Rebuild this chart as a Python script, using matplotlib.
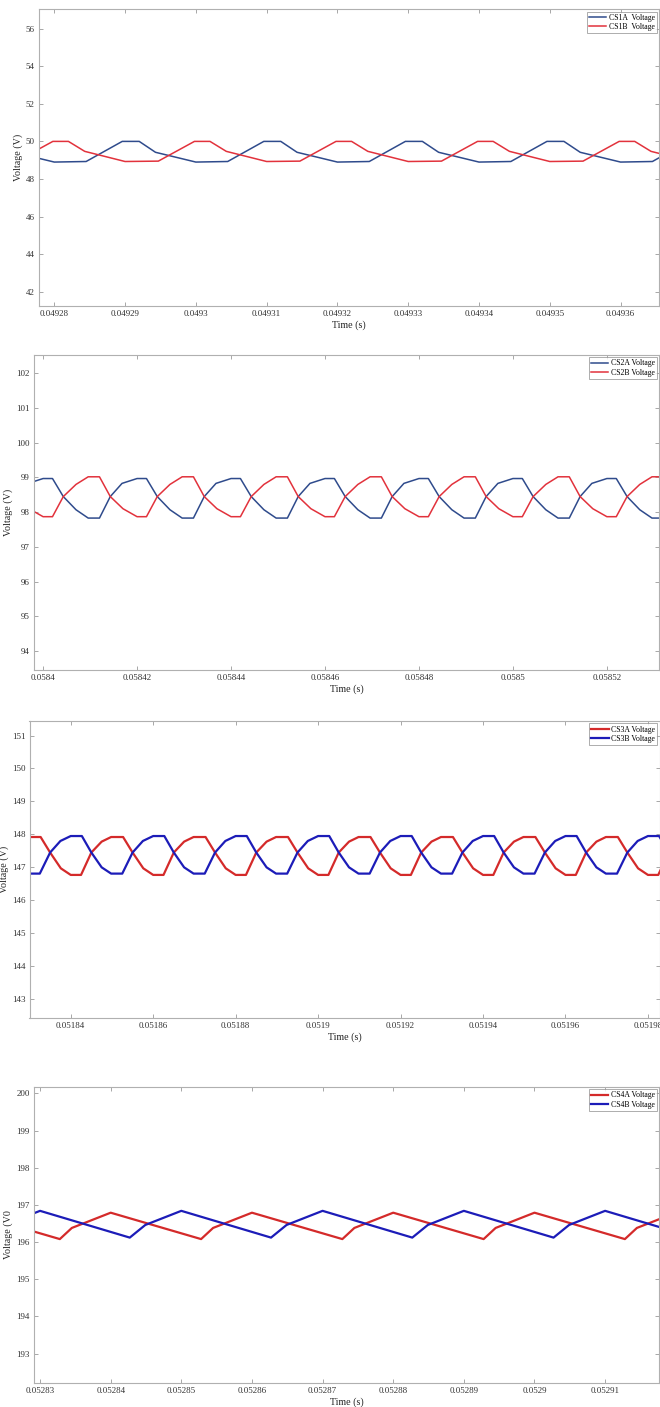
import numpy as np
import matplotlib
matplotlib.use('Agg')
import matplotlib.pyplot as plt
from matplotlib.ticker import FuncFormatter

plt.rcParams['font.family'] = ['Liberation Serif', 'DejaVu Serif']

# ---- data (times in microseconds, one switching cycle,
#      plus the start time of every cycle visible in each window) ----

# panel 1
cs1a_start = [49260, 49280, 49300, 49320, 49340, 49360]
cs1a_dt = [0, 4.5, 9.6, 12.0, 14.3, 20.0]
cs1a_v = [48.90, 48.93, 50.00, 50.00, 49.42, 48.90]
cs1b_start = [49270, 49290, 49310, 49330, 49350, 49370]
cs1b_dt = [0, 4.7, 9.8, 12.0, 14.3, 20.0]
cs1b_v = [48.93, 48.95, 50.00, 50.00, 49.47, 48.93]

# panel 2
cs2_start = [58380, 58400, 58420, 58440, 58460, 58480, 58500, 58520]
cs2a_dt = [0, 2.0, 4.3, 7.0, 9.6, 12.0, 14.3, 16.8, 20.0]
cs2a_v = [98.97, 98.97, 98.45, 98.07, 97.83, 97.83, 98.45, 98.83, 98.97]
cs2b_dt = [0, 2.0, 4.3, 7.0, 9.6, 12.0, 14.3, 17.0, 20.0]
cs2b_v = [97.87, 97.87, 98.45, 98.80, 99.02, 99.02, 98.45, 98.10, 97.87]

# panel 3
cs3_start = [51820, 51840, 51860, 51880, 51900, 51920, 51940, 51960, 51980]
cs3a_dt = [0, 2.5, 5.0, 7.5, 9.8, 12.7, 15.0, 17.6, 20.0]
cs3a_v = [146.77, 146.77, 147.45, 147.78, 147.92, 147.92, 147.45, 146.97, 146.77]
cs3b_dt = [0, 2.7, 5.0, 7.5, 9.8, 12.5, 15.0, 17.5, 20.0]
cs3b_v = [147.95, 147.95, 147.45, 147.00, 146.81, 146.81, 147.45, 147.80, 147.95]

# panel 4
cs4a_start = [52820, 52840, 52860, 52880, 52900, 52920]
cs4a_dt = [0, 12.8, 14.5, 20.0]
cs4a_v = [196.79, 196.08, 196.38, 196.79]
cs4b_start = [52810, 52830, 52850, 52870, 52890, 52910]
cs4b_dt = [0, 12.7, 14.9, 20.0]
cs4b_v = [196.84, 196.12, 196.46, 196.84]

x_ticks = [
    [0.04928, 0.04929, 0.0493, 0.04931, 0.04932, 0.04933, 0.04934, 0.04935, 0.04936],
    [0.0584, 0.05842, 0.05844, 0.05846, 0.05848, 0.0585, 0.05852],
    [0.05184, 0.05186, 0.05188, 0.0519, 0.05192, 0.05194, 0.05196, 0.05198],
    [0.05283, 0.05284, 0.05285, 0.05286, 0.05287, 0.05288, 0.05289, 0.0529, 0.05291],
]
y_ticks = [
    [42, 44, 46, 48, 50, 52, 54, 56],
    [94, 95, 96, 97, 98, 99, 100, 101, 102],
    [143, 144, 145, 146, 147, 148, 149, 150, 151],
    [193, 194, 195, 196, 197, 198, 199, 200],
]


def wave(starts, dt, v):
    t = np.add.outer(np.array(starts, float), np.array(dt, float)).ravel() * 1e-6
    y = np.tile(v, len(starts))
    return t, y


BLUE1 = '#2f4b8c'
RED1 = '#e2323c'
BLUE2 = '#1c1cb8'
RED2 = '#d42a2a'

panels = [
    dict(box=(38.7, 9.3, 306.0), xlim=(0.0492778, 0.0493655), ylim=(41.24, 57.03),
         lines=[(wave(cs1a_start, cs1a_dt, cs1a_v), BLUE1, 'CS1A  Voltage'),
                (wave(cs1b_start, cs1b_dt, cs1b_v), RED1, 'CS1B  Voltage')],
         lw=1.1, ylabel='Voltage (V)'),
    dict(box=(33.7, 354.7, 670.0), xlim=(0.0583980, 0.0585312), ylim=(93.45, 102.54),
         lines=[(wave(cs2_start, cs2a_dt, cs2a_v), BLUE1, 'CS2A Voltage'),
                (wave(cs2_start, cs2b_dt, cs2b_v), RED1, 'CS2B Voltage')],
         lw=1.1, ylabel='Voltage (V)'),
    dict(box=(29.5, 721.0, 1018.3), xlim=(0.0518300, 0.0519828), ylim=(142.42, 151.44),
         lines=[(wave(cs3_start, cs3a_dt, cs3a_v), RED2, 'CS3A Voltage'),
                (wave(cs3_start, cs3b_dt, cs3b_v), BLUE2, 'CS3B Voltage')],
         lw=1.6, ylabel='Voltage (V)'),
    dict(box=(33.7, 1086.7, 1383.3), xlim=(0.0528291, 0.0529177), ylim=(192.2, 200.18),
         lines=[(wave(cs4a_start, cs4a_dt, cs4a_v), RED2, 'CS4A Voltage'),
                (wave(cs4b_start, cs4b_dt, cs4b_v), BLUE2, 'CS4B Voltage')],
         lw=1.6, ylabel='Voltage (V0'),
]

W, H = 660, 1407
fig = plt.figure(figsize=(W / 100, H / 100), dpi=100)

for i, p in enumerate(panels):
    left, top, bottom = p['box']
    right = 659.5
    ax = fig.add_axes([left / W, 1 - bottom / H, (right - left) / W, (bottom - top) / H])
    for (t, y), c, lab in p['lines']:
        ax.plot(t, y, color=c, lw=p['lw'], label=lab)
    ax.set_xlim(*p['xlim'])
    ax.set_ylim(*p['ylim'])
    ax.set_xticks(x_ticks[i])
    ax.set_yticks(y_ticks[i])
    ax.xaxis.set_major_formatter(FuncFormatter(lambda v, pos: '%g' % v))
    ax.tick_params(direction='in', top=True, right=True, length=3, width=0.6,
                   color='#999999', labelsize=6.5, labelcolor='#333333', pad=3)
    for s in ax.spines.values():
        s.set_color('#b0b0b0')
        s.set_linewidth(0.8)
    ax.set_xlabel('Time (s)', fontsize=7.2, color='#222222', labelpad=1.5)
    ax.set_ylabel(p['ylabel'], fontsize=7.2, color='#222222', labelpad=2)
    leg = ax.legend(loc='upper right', fontsize=5.6, frameon=True, fancybox=False,
                    borderaxespad=0.3, borderpad=0.3, labelspacing=0.15,
                    handlelength=2.2, handletextpad=0.3)
    leg.get_frame().set_edgecolor('#888888')
    leg.get_frame().set_linewidth(0.6)

fig.savefig('out.png', dpi=100)
